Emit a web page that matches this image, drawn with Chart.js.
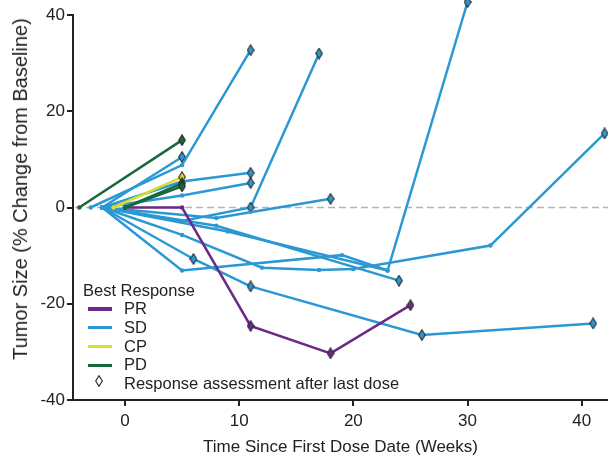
<!DOCTYPE html>
<html>
<head>
<meta charset="utf-8">
<script src="https://cdn.jsdelivr.net/npm/chart.js@4.4.1/dist/chart.umd.min.js"></script>
<style>
  html, body { margin: 0; padding: 0; background: #fff; }
  #wrap { position: relative; width: 608px; height: 461px; font-family: 'Liberation Sans', Arial, sans-serif; color: #222; }
  #chart { position: absolute; left: 0; top: 0; }
  #yTitle { position: absolute; left: 20px; top: 189px; font-size: 20px; line-height: 1; white-space: nowrap;
            transform: translate(-50%, -50%) rotate(-90deg); }
  .lg { position: absolute; font-size: 16.5px; line-height: 20px; white-space: nowrap; }
  .sw { position: absolute; width: 24px; height: 3.3px; }
</style>
</head>
<body>
<div id="wrap">
  <canvas id="chart" width="608" height="461"></canvas>
  <div id="yTitle">Tumor Size (% Change from Baseline)</div>
  <div id="legend"></div>
</div>
<script>
  /* ---------- data ---------- */
  const responses = ['PR', 'SD', 'CP', 'PD'];
  const responseColors = ['#6a2a87', '#2b98d4', '#d9de2c', '#17683a'];

  // one entry per patient (SD first, PD last)
  const patientResponse = ['SD', 'SD', 'SD', 'SD', 'SD', 'SD', 'SD', 'SD', 'SD', 'SD', 'SD',
                           'PR', 'CP', 'PD', 'PD', 'PD'];
  const patientWeeks = [
    [-2, 5], [-3, 5, 11], [-2, 5, 11, 17], [-2, 5, 11], [-2, 5, 11], [-2, 8, 18],
    [-2, 8, 24], [-2, 9, 23, 30], [-2, 5, 19, 23], [-2, 6, 11, 26, 41],
    [-2, 5, 12, 17, 20, 32, 42],
    [0, 5, 11, 18, 25], [-1, 5], [-4, 5], [0, 5], [0, 5]
  ];
  const patientChange = [
    [0, 10.5], [0, 8.8, 32.7], [0, -2.8, 0, 32], [0, 5.4, 7.2], [0, 2.5, 5.1], [0, -2.2, 1.8],
    [0, -3.8, -15.2], [0, -5, -13.1, 42.7], [0, -13.1, -9.9, -13.1], [0, -10.7, -16.4, -26.5, -24.1],
    [0, -5.7, -12.5, -13, -12.8, -7.9, 15.4],
    [0, 0, -24.6, -30.3, -20.3], [0, 6.3], [0, 14], [0, 5.0], [0, 4.4]
  ];
  // index of the first response assessment after the last dose (diamonds from there on)
  const firstAfterLastDose = [1, 2, 2, 2, 2, 2, 2, 3, 4, 1, 6, 2, 1, 1, 1, 1];

  const xRange = [-4.55, 42.3];
  const yRange = [-40, 40];
  const xTicks = [0, 10, 20, 30, 40];
  const yTicks = [-40, -20, 0, 20, 40];

  const FONT = "'Liberation Sans', Arial, sans-serif";
  const INK = '#222';

  /* ---------- point marker: tall outlined diamond ---------- */
  function makeDiamond(fill) {
    const c = document.createElement('canvas');
    c.width = 8; c.height = 12;
    const g = c.getContext('2d');
    g.beginPath();
    g.moveTo(4, 0.7); g.lineTo(7.3, 6); g.lineTo(4, 11.3); g.lineTo(0.7, 6); g.closePath();
    g.fillStyle = fill; g.fill();
    g.strokeStyle = '#2a2a2a'; g.lineWidth = 1.1; g.stroke();
    return c;
  }

  const colorOf = r => responseColors[responses.indexOf(r)];

  const datasets = patientWeeks.map((weeks, i) => {
    const color = colorOf(patientResponse[i]);
    const diamond = makeDiamond(color);
    const cut = firstAfterLastDose[i];
    return {
      data: weeks.map((w, j) => ({ x: w, y: patientChange[i][j] })),
      showLine: true,
      clip: false,
      borderColor: color,
      borderWidth: 2.5,
      backgroundColor: color,
      pointBackgroundColor: color,
      pointBorderWidth: 0,
      pointHoverRadius: 0,
      pointStyle: ctx => (ctx.dataIndex >= cut ? diamond : 'circle'),
      pointRadius: ctx => (ctx.dataIndex >= cut ? 14 : 2.2)
    };
  }).reverse(); // first dataset is drawn on top

  /* ---------- dashed zero reference ---------- */
  const zeroLine = {
    id: 'zeroLine',
    beforeDatasetsDraw(chart) {
      const { ctx, chartArea: a, scales: { y } } = chart;
      const py = y.getPixelForValue(0);
      ctx.save();
      ctx.strokeStyle = '#b4b4b4';
      ctx.lineWidth = 1.6;
      ctx.setLineDash([7, 4]);
      ctx.beginPath();
      ctx.moveTo(a.left + 2, py);
      ctx.lineTo(a.right, py);
      ctx.stroke();
      ctx.restore();
    }
  };

  const axisBase = {
    type: 'linear',
    grid: { drawOnChartArea: false, drawTicks: true, tickLength: 6, color: INK, lineWidth: 2 },
    border: { color: INK, width: 2 },
    ticks: { font: { family: FONT, size: 17 }, color: INK, maxRotation: 0 }
  };

  new Chart(document.getElementById('chart'), {
    type: 'scatter',
    data: { datasets },
    options: {
      responsive: false,
      animation: false,
      layout: { autoPadding: false, padding: { top: 15, right: 0, bottom: 0, left: 0 } },
      plugins: { legend: { display: false }, tooltip: { enabled: false } },
      scales: {
        x: {
          ...axisBase,
          min: xRange[0], max: xRange[1],
          afterBuildTicks: s => { s.ticks = xTicks.map(v => ({ value: v })); },
          afterFit: s => { s.height = 61; s.paddingLeft = 0; s.paddingRight = 0; },
          ticks: { ...axisBase.ticks, padding: 5 },
          title: {
            display: true, text: 'Time Since First Dose Date (Weeks)', color: INK,
            font: { family: FONT, size: 17 }, padding: { top: 0, bottom: 3 }
          }
        },
        y: {
          ...axisBase,
          min: yRange[0], max: yRange[1],
          afterBuildTicks: s => { s.ticks = yTicks.map(v => ({ value: v })); },
          afterFit: s => { s.width = 73; s.paddingTop = 0; s.paddingBottom = 0; },
          ticks: { ...axisBase.ticks, padding: 2 }
        }
      }
    },
    plugins: [zeroLine]
  });

  /* ---------- legend (inside plot, bottom-left) ---------- */
  const legend = document.getElementById('legend');
  const add = (html, css) => {
    const d = document.createElement('div');
    d.className = 'lg';
    d.style.cssText = css;
    d.innerHTML = html;
    legend.appendChild(d);
  };
  add('Best Response', 'left:83px;top:280px;');
  responses.forEach((r, i) => {
    const cy = 308 + 18.7 * i;
    const sw = document.createElement('div');
    sw.className = 'sw';
    sw.style.cssText = `left:88px;top:${cy - 0.6}px;background:${responseColors[i]};`;
    legend.appendChild(sw);
    add(r, `left:124px;top:${cy - 9.8}px;`);
  });
  const dy = 308 + 18.7 * 4;
  add('<svg width="8" height="12" viewBox="0 0 8 12"><path d="M4 0.7 L7.3 6 L4 11.3 L0.7 6 Z" fill="#fff" stroke="#222" stroke-width="1.1"/></svg>',
      `left:95px;top:${dy - 8}px;line-height:0;`);
  add('Response assessment after last dose', `left:124px;top:${dy - 9.8}px;`);
</script>
</body>
</html>
